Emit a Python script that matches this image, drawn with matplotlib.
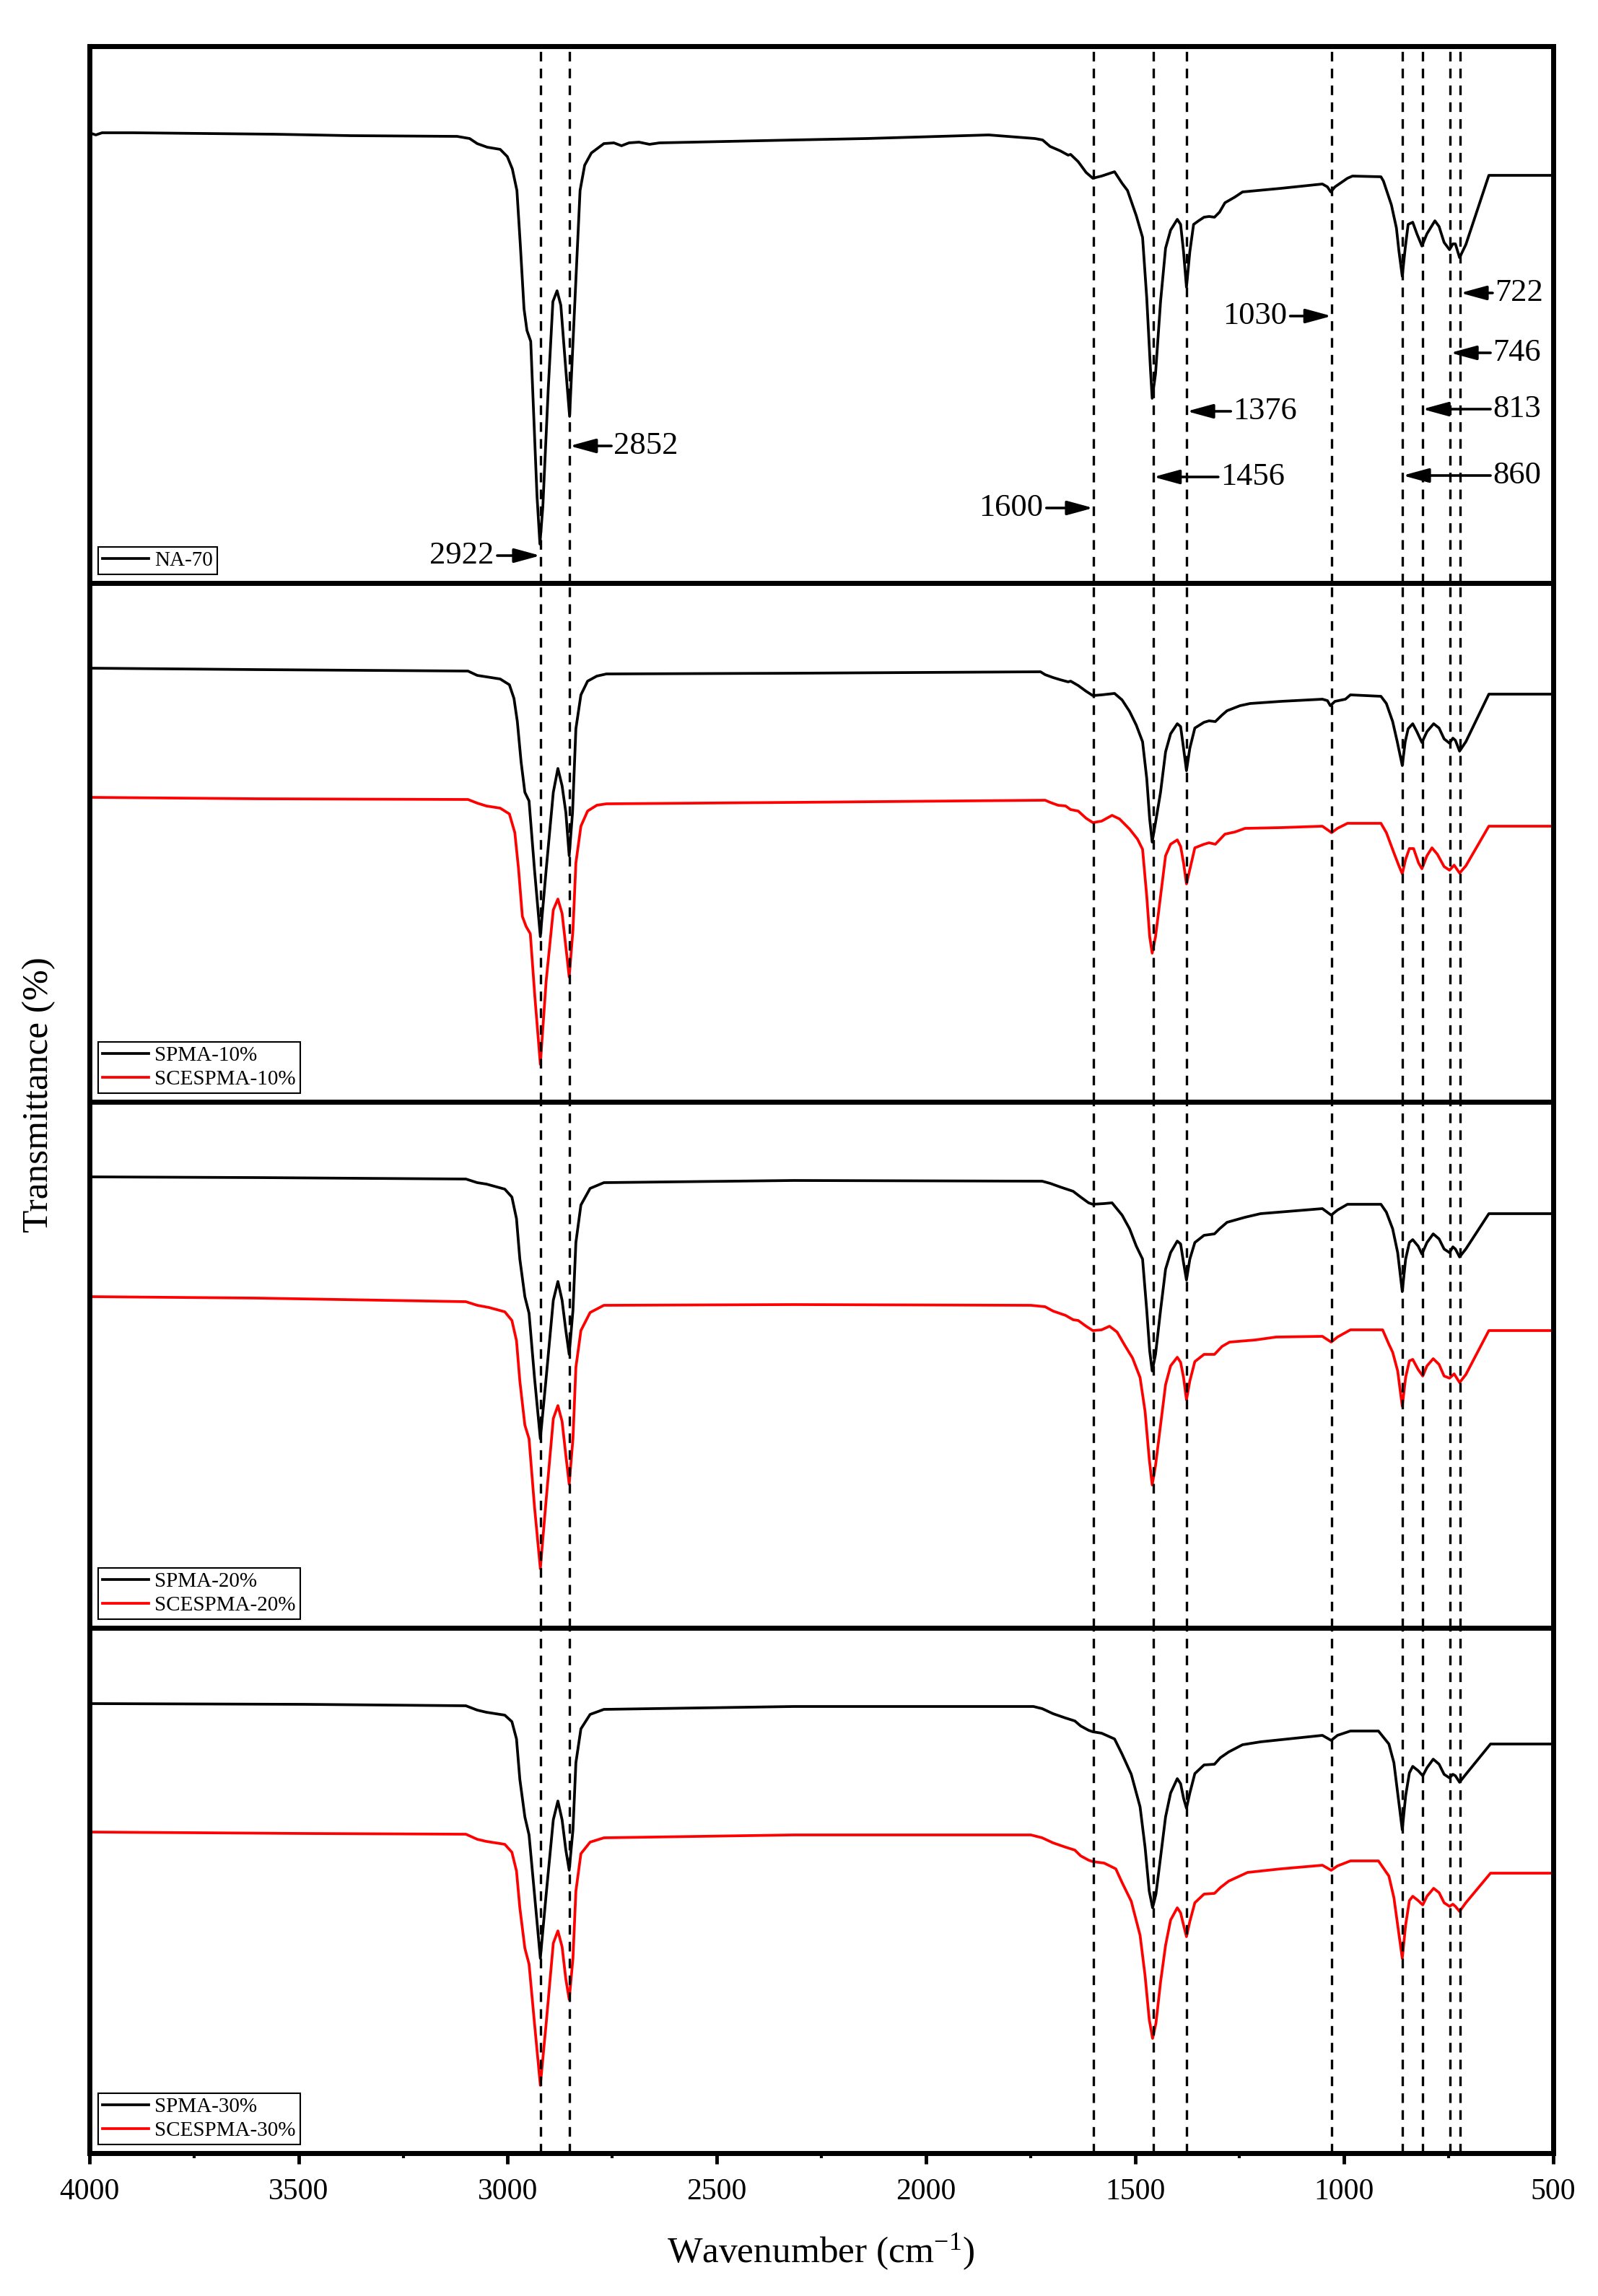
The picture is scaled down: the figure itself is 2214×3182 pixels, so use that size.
import matplotlib
matplotlib.use('Agg')
import matplotlib.pyplot as plt
from matplotlib.ticker import MultipleLocator

plt.rcParams['font.family'] = ['Liberation Serif', 'DejaVu Serif']
plt.rcParams['mathtext.fontset'] = 'custom'
plt.rcParams['mathtext.rm'] = 'Liberation Serif'
plt.rcParams['mathtext.it'] = 'Liberation Serif:italic'

# ---------------- data (wavenumber cm-1, transmittance a.u.) ----------------
na70 = [(4000, 624), (3985, 621), (3970, 624), (3896, 624), (3557, 622), (3376, 620), (3121, 619), (3091, 616),
        (3073, 609), (3049, 604), (3018, 601), (3001, 591), (2989, 574), (2978, 544), (2970, 470), (2961, 380),
        (2954, 350), (2945, 335), (2937, 221), (2930, 121), (2923, 54), (2916, 106), (2903, 270), (2892, 390),
        (2882, 405), (2873, 385), (2861, 295), (2852, 231), (2845, 320), (2837, 420), (2827, 544), (2816, 579),
        (2800, 596), (2770, 609), (2746, 610), (2728, 606), (2710, 610), (2686, 611), (2661, 608), (2637, 610),
        (2316, 614), (2143, 616), (1850, 621), (1739, 616), (1721, 614), (1703, 605), (1679, 599), (1660, 593),
        (1654, 594), (1636, 584), (1617, 569), (1601, 561), (1580, 564), (1549, 570), (1531, 554), (1518, 544),
        (1497, 509), (1482, 479), (1472, 395), (1463, 295), (1459, 256), (1451, 290), (1439, 390), (1427, 464),
        (1415, 489), (1399, 504), (1391, 497), (1384, 459), (1377, 410), (1369, 459), (1360, 497), (1348, 502),
        (1335, 507), (1323, 508), (1310, 507), (1298, 514), (1285, 527), (1261, 535), (1243, 542), (1151, 547),
        (1052, 553), (1040, 549), (1032, 542), (1022, 549), (992, 561), (980, 564), (912, 563), (906, 557),
        (887, 524), (875, 492), (869, 460), (861, 425), (854, 464), (847, 497), (836, 500), (826, 484), (814, 467),
        (802, 484), (783, 502), (773, 494), (761, 472), (748, 462), (740, 470), (734, 470), (724, 451), (709, 469),
        (654, 565), (500, 565)]

spma10 = [(4000, 601), (3601, 599), (3095, 597), (3073, 591), (3051, 589), (3018, 586), (2996, 578), (2985, 559),
          (2977, 527), (2968, 471), (2959, 429), (2949, 417), (2936, 322), (2922, 229), (2908, 322), (2891, 429),
          (2880, 462), (2870, 438), (2861, 401), (2853, 341), (2845, 401), (2837, 517), (2825, 564), (2809, 583),
          (2787, 590), (2764, 593), (2316, 594), (1726, 596), (1715, 592), (1696, 588), (1679, 585), (1660, 582),
          (1654, 583), (1636, 577), (1617, 569), (1601, 563), (1580, 564), (1549, 566), (1531, 557), (1513, 541),
          (1497, 522), (1482, 499), (1472, 448), (1465, 392), (1459, 360), (1451, 387), (1439, 429), (1427, 485),
          (1415, 510), (1399, 524), (1391, 520), (1384, 490), (1377, 459), (1369, 490), (1357, 518), (1335, 526),
          (1323, 528), (1308, 527), (1292, 536), (1280, 542), (1249, 549), (1225, 552), (1151, 555), (1052, 558),
          (1040, 556), (1033, 549), (1022, 555), (997, 558), (985, 564), (912, 562), (899, 552), (884, 527),
          (873, 499), (861, 466), (854, 499), (847, 517), (836, 524), (826, 513), (814, 498), (802, 513), (786, 524),
          (773, 518), (761, 503), (748, 497), (740, 504), (734, 501), (724, 486), (709, 499), (654, 565), (500, 565)]

scespma10 = [(4000, 422), (3601, 420), (3095, 419), (3073, 414), (3051, 410), (3018, 407), (2996, 399), (2983, 373),
             (2974, 322), (2965, 257), (2956, 243), (2946, 233), (2935, 145), (2922, 52), (2908, 168), (2891, 266),
             (2880, 281), (2870, 261), (2861, 215), (2853, 173), (2844, 238), (2837, 331), (2825, 382), (2809, 403),
             (2787, 411), (2764, 413), (2316, 415), (1715, 418), (1703, 415), (1684, 411), (1666, 410), (1654, 405),
             (1636, 403), (1617, 393), (1601, 387), (1580, 389), (1555, 397), (1537, 392), (1513, 378), (1494, 364),
             (1482, 350), (1472, 285), (1465, 229), (1459, 206), (1451, 229), (1439, 285), (1427, 341), (1415, 357),
             (1399, 363), (1391, 354), (1384, 331), (1377, 302), (1369, 322), (1357, 352), (1335, 357), (1323, 359),
             (1308, 357), (1285, 371), (1261, 374), (1237, 379), (1151, 380), (1052, 382), (1030, 373), (1016, 379),
             (992, 386), (912, 386), (899, 373), (881, 345), (869, 327), (861, 316), (853, 336), (844, 351),
             (834, 351), (822, 331), (814, 323), (802, 341), (790, 352), (777, 343), (761, 326), (748, 321),
             (737, 328), (724, 317), (709, 327), (654, 382), (500, 382)]

spma20 = [(4000, 625), (3601, 624), (3100, 622), (3073, 617), (3051, 615), (3007, 608), (2990, 597), (2979, 567),
          (2971, 511), (2959, 459), (2949, 436), (2936, 347), (2922, 262), (2908, 347), (2891, 454), (2880, 480),
          (2870, 454), (2861, 412), (2853, 379), (2844, 440), (2837, 534), (2825, 586), (2803, 609), (2770, 617),
          (2316, 620), (1722, 619), (1703, 616), (1679, 611), (1648, 605), (1630, 597), (1611, 589), (1601, 587),
          (1574, 588), (1555, 589), (1531, 572), (1513, 553), (1497, 529), (1482, 511), (1472, 440), (1465, 384),
          (1459, 356), (1451, 379), (1439, 440), (1427, 497), (1415, 520), (1399, 536), (1391, 532), (1384, 506),
          (1377, 482), (1369, 511), (1357, 534), (1335, 544), (1310, 546), (1298, 553), (1280, 562), (1237, 569),
          (1200, 574), (1052, 581), (1031, 572), (1016, 579), (992, 587), (912, 587), (899, 576), (884, 553),
          (872, 520), (861, 466), (853, 511), (844, 534), (836, 538), (823, 529), (814, 518), (802, 534), (787, 546),
          (773, 539), (761, 525), (748, 520), (740, 528), (734, 525), (724, 514), (709, 525), (654, 574), (500, 574)]

scespma20 = [(4000, 459), (3601, 457), (3100, 452), (3073, 447), (3045, 444), (3007, 438), (2990, 426), (2979, 398),
             (2971, 342), (2959, 281), (2949, 262), (2936, 168), (2922, 82), (2908, 178), (2891, 290), (2880, 308),
             (2870, 286), (2861, 239), (2853, 199), (2844, 262), (2837, 361), (2825, 412), (2803, 437), (2770, 447),
             (2316, 448), (1749, 447), (1715, 445), (1696, 439), (1666, 433), (1648, 427), (1636, 426), (1617, 418),
             (1601, 412), (1580, 413), (1561, 418), (1543, 410), (1524, 391), (1506, 374), (1488, 347), (1476, 300),
             (1466, 234), (1459, 198), (1451, 225), (1439, 281), (1427, 337), (1415, 363), (1399, 375), (1391, 368),
             (1384, 347), (1377, 316), (1369, 342), (1357, 369), (1335, 379), (1310, 379), (1292, 390), (1274, 396),
             (1212, 399), (1163, 403), (1052, 404), (1031, 396), (1016, 403), (985, 413), (908, 413), (893, 393),
             (884, 382), (872, 356), (861, 307), (853, 347), (844, 370), (836, 372), (823, 358), (812, 349),
             (802, 363), (787, 373), (773, 365), (761, 349), (748, 346), (737, 352), (724, 340), (709, 351),
             (654, 412), (500, 412)]

spma30 = [(4000, 623), (3486, 622), (3100, 620), (3073, 614), (3051, 611), (3007, 607), (2990, 598), (2979, 574),
          (2971, 518), (2959, 466), (2949, 441), (2936, 359), (2922, 270), (2908, 359), (2891, 462), (2880, 488),
          (2870, 462), (2861, 420), (2853, 392), (2844, 448), (2837, 541), (2825, 588), (2803, 608), (2770, 615),
          (2316, 619), (1743, 619), (1722, 616), (1696, 609), (1666, 603), (1644, 599), (1630, 592), (1611, 586),
          (1601, 584), (1580, 582), (1549, 574), (1531, 553), (1509, 525), (1488, 480), (1476, 424), (1466, 363),
          (1458, 340), (1450, 359), (1439, 410), (1427, 466), (1415, 499), (1399, 519), (1391, 512), (1384, 492),
          (1377, 478), (1369, 499), (1357, 526), (1335, 538), (1310, 539), (1296, 548), (1276, 556), (1243, 566),
          (1200, 570), (1052, 579), (1031, 572), (1016, 579), (985, 585), (918, 585), (893, 567), (881, 541),
          (872, 499), (861, 448), (853, 495), (844, 527), (836, 536), (823, 530), (812, 523), (802, 534), (787, 546),
          (773, 539), (761, 525), (748, 520), (740, 525), (734, 523), (724, 514), (709, 525), (650, 567), (500, 567)]

scespma30 = [(4000, 445), (3486, 443), (3100, 442), (3073, 435), (3051, 432), (3007, 428), (2990, 417), (2979, 391),
             (2971, 340), (2959, 284), (2949, 262), (2936, 180), (2922, 94), (2908, 180), (2891, 291), (2880, 308),
             (2870, 286), (2861, 241), (2853, 213), (2844, 270), (2837, 363), (2825, 415), (2803, 431), (2770, 437),
             (2316, 441), (1749, 441), (1722, 437), (1696, 430), (1666, 424), (1644, 420), (1630, 412), (1611, 406),
             (1601, 404), (1574, 402), (1546, 394), (1531, 375), (1509, 349), (1488, 302), (1476, 246), (1466, 185),
             (1458, 159), (1450, 180), (1439, 237), (1427, 288), (1415, 323), (1399, 340), (1391, 333), (1384, 316),
             (1377, 300), (1369, 321), (1357, 347), (1335, 359), (1310, 360), (1296, 368), (1276, 377), (1231, 389),
             (1151, 394), (1052, 399), (1031, 392), (1016, 398), (985, 405), (918, 405), (893, 384), (881, 354),
             (872, 316), (861, 270), (853, 316), (844, 350), (836, 356), (823, 350), (812, 344), (802, 356),
             (786, 367), (773, 361), (761, 347), (748, 342), (740, 345), (734, 342), (724, 335), (709, 347),
             (650, 388), (500, 388)]

marked_peaks = [2922, 2852, 1600, 1456, 1376, 1030, 860, 813, 746, 722]
x_ticks = [4000, 3500, 3000, 2500, 2000, 1500, 1000, 500]

panels = [
    [('NA-70', na70, 'black')],
    [('SPMA-10%', spma10, 'black'), ('SCESPMA-10%', scespma10, 'red')],
    [('SPMA-20%', spma20, 'black'), ('SCESPMA-20%', scespma20, 'red')],
    [('SPMA-30%', spma30, 'black'), ('SCESPMA-30%', scespma30, 'red')],
]

# ---------------- layout / style ----------------
W, H = 2214, 3182
fig = plt.figure(figsize=(W / 100, H / 100), dpi=100)
panel_heights = [744, 719, 729, 728]
gs = fig.add_gridspec(4, 1, height_ratios=panel_heights, hspace=0,
                      left=124 / W, right=2152 / W, top=1 - 64 / H, bottom=1 - 2984 / H)

# annotation layout: (peak, arrow tail wavenumber, y, side of text)
label_layout = [(2922, 3025, 38, 'left'), (2852, 2752, 190, 'right'), (1600, 1712, 104, 'left'),
                (1456, 1301, 147, 'right'), (1376, 1271, 238, 'right'), (1030, 1129, 370, 'left'),
                (860, 650, 149, 'right'), (813, 650, 241, 'right'), (746, 650, 319, 'right'),
                (722, 645, 402, 'right')]

axes = []
for i, (series, hgt) in enumerate(zip(panels, panel_heights)):
    ax = fig.add_subplot(gs[i], sharex=axes[0] if axes else None)
    axes.append(ax)
    for name, pts, col in series:
        xs = [p[0] for p in pts]
        ys = [p[1] for p in pts]
        ax.plot(xs, ys, color=col, lw=2.7, label=name, solid_joinstyle='round', zorder=2)
    for pk in marked_peaks:
        ax.axvline(pk, color='black', lw=2.4, dashes=(4, 3), zorder=3)
    ax.set_ylim(0, hgt)
    ax.set_yticks([])
    for sp in ax.spines.values():
        sp.set_linewidth(5)
    leg = ax.legend(loc='lower left', frameon=True, fancybox=False, edgecolor='black', framealpha=1,
                    fontsize=21, handlelength=2.2, handletextpad=0.3, borderpad=0.2, labelspacing=0.25,
                    borderaxespad=0.4)
    leg.get_frame().set_linewidth(1.5)
    if i < 3:
        ax.tick_params(axis='x', which='both', bottom=False, labelbottom=False)

ax0 = axes[0]
ax0.set_xlim(4000, 500)
for pk, tail, y, side in label_layout:
    ax0.annotate('', xy=(pk, y), xytext=(tail, y),
                 arrowprops=dict(arrowstyle='-|>,head_length=1.1,head_width=0.3', lw=2.6, color='black',
                                 shrinkA=0, shrinkB=0, mutation_scale=20), zorder=4)
    if side == 'left':
        ax0.text(tail + 8, y, str(pk), ha='right', va='center', fontsize=32, zorder=4)
    else:
        ax0.text(tail - 5, y, str(pk), ha='left', va='center', fontsize=32, zorder=4)

axb = axes[-1]
axb.set_xticks(x_ticks)
axb.xaxis.set_minor_locator(MultipleLocator(250))
axb.tick_params(axis='x', which='major', direction='out', length=11, width=3.5, labelsize=30, pad=14)
axb.tick_params(axis='x', which='minor', direction='out', length=5, width=3)

fig.text(0.5136, 1 - 3135 / H, 'Wavenumber (cm$^{-1}$)', ha='center', va='baseline', fontsize=37)
fig.text(54 / W, 1 - 1517 / H, 'Transmittance (%)', rotation=90, ha='center', va='center', fontsize=37)

fig.savefig('out.png', dpi=100, facecolor='white')
